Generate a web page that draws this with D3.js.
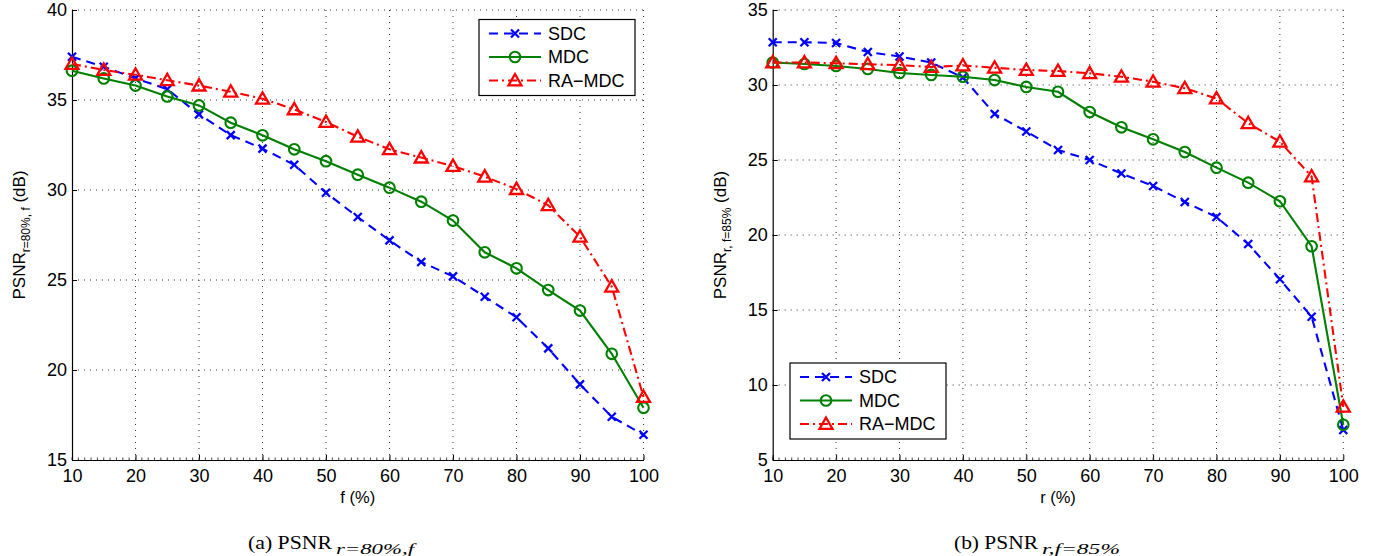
<!DOCTYPE html>
<html>
<head>
<meta charset="utf-8">
<script src="https://cdn.jsdelivr.net/npm/d3@7"></script>
<style>
  html, body { margin: 0; padding: 0; background: #fff; }
  svg { display: block; }
  text { font-family: "Liberation Sans", Arial, sans-serif; }
  text.cap { font-family: "Liberation Serif", "Times New Roman", serif; }
</style>
</head>
<body>
<svg id="chart" width="1384" height="556"></svg>
<script>
// x values shared by both panels
const pct = [10, 15, 20, 25, 30, 35, 40, 45, 50, 55, 60, 65, 70, 75, 80, 85, 90, 95, 100]

// (a) PSNR vs f, r = 80%
const sdcA = [37.4, 36.85, 36.2, 35.6, 34.2, 33.05, 32.3, 31.4, 29.85, 28.5, 27.2, 26.0, 25.2, 24.07, 22.93, 21.2, 19.2, 17.4, 16.4]
const mdcA = [36.63, 36.2, 35.8, 35.2, 34.7, 33.74, 33.04, 32.26, 31.6, 30.85, 30.13, 29.35, 28.3, 26.54, 25.65, 24.44, 23.3, 20.9, 17.9]
const raA  = [37.0, 36.67, 36.4, 36.1, 35.8, 35.46, 35.07, 34.48, 33.78, 32.96, 32.26, 31.8, 31.33, 30.74, 30.05, 29.15, 27.4, 24.63, 18.5]

// (b) PSNR vs r, f = 85%
const sdcB = [32.85, 32.85, 32.8, 32.2, 31.9, 31.5, 30.5, 28.07, 26.9, 25.67, 25.0, 24.1, 23.27, 22.2, 21.2, 19.4, 17.05, 14.55, 7.0]
const mdcB = [31.5, 31.4, 31.27, 31.07, 30.8, 30.67, 30.55, 30.33, 29.87, 29.55, 28.2, 27.18, 26.38, 25.53, 24.49, 23.49, 22.25, 19.25, 7.35]
const raB  = [31.5, 31.5, 31.45, 31.38, 31.33, 31.2, 31.3, 31.15, 31.0, 30.93, 30.78, 30.55, 30.22, 29.78, 29.1, 27.45, 26.22, 23.9, 8.55]

const xTicks = [10, 20, 30, 40, 50, 60, 70, 80, 90, 100]
const yTicksA = [15, 20, 25, 30, 35, 40]
const yTicksB = [5, 10, 15, 20, 25, 30, 35]

const seriesNames = ['SDC', 'MDC', 'RA\u2212MDC']
const colors = ['#0000ff', '#008000', '#ff0000']
const dashes = ['9,6', null, '9,4,2,4']
const markers = ['cross', 'circle', 'triangle']

const svg = d3.select('#chart')

function drawMarker(g, type, x, y, color) {
  if (type === 'cross') {
    const s = 4
    g.append('path')
      .attr('d', `M${x - s},${y - s}L${x + s},${y + s}M${x - s},${y + s}L${x + s},${y - s}`)
      .attr('stroke', color).attr('stroke-width', 2.3).attr('fill', 'none')
  } else if (type === 'circle') {
    g.append('circle')
      .attr('cx', x).attr('cy', y).attr('r', 5.3)
      .attr('stroke', color).attr('stroke-width', 2.1).attr('fill', 'none')
  } else {
    const h = 6.5
    g.append('path')
      .attr('d', `M${x},${y - h}L${x + h},${y + h * 0.75}L${x - h},${y + h * 0.75}Z`)
      .attr('stroke', color).attr('stroke-width', 2.3).attr('fill', 'none')
  }
}

function panel(opt) {
  const x = d3.scaleLinear().domain([10, 100]).range([opt.left, opt.right])
  const y = d3.scaleLinear().domain(opt.yDomain).range([460, 10])
  const g = svg.append('g')

  // grid
  g.selectAll('.gx').data(xTicks.slice(1)).enter().append('line')
    .attr('x1', d => x(d)).attr('x2', d => x(d))
    .attr('y1', 10).attr('y2', 460)
    .attr('stroke', '#333').attr('stroke-width', 1).attr('stroke-dasharray', '1,5')
  g.selectAll('.gy').data(opt.yTicks.slice(1)).enter().append('line')
    .attr('x1', opt.left).attr('x2', opt.right)
    .attr('y1', d => y(d)).attr('y2', d => y(d))
    .attr('stroke', '#333').attr('stroke-width', 1).attr('stroke-dasharray', '1,5')

  // axes
  const xAxis = g.append('g').attr('transform', 'translate(0,460)')
    .call(d3.axisBottom(x).tickValues(xTicks).tickSizeInner(-5).tickSizeOuter(0).tickPadding(8))
  const minor = d3.range(10, 101, 1)
  xAxis.selectAll('.minor').data(minor).enter().append('line')
    .attr('x1', d => x(d)).attr('x2', d => x(d))
    .attr('y1', 0).attr('y2', -2.5).attr('stroke', '#444')
  const yAxis = g.append('g').attr('transform', `translate(${opt.left},0)`)
    .call(d3.axisLeft(y).tickValues(opt.yTicks).tickSizeInner(-5).tickSizeOuter(0).tickPadding(5))
  ;[xAxis, yAxis].forEach(a => {
    a.select('.domain').attr('stroke', '#000').attr('stroke-width', 1.2)
    a.selectAll('text').attr('font-size', 18).attr('fill', '#000')
  })
  xAxis.selectAll('.tick text').attr('dy', '0.8em')
  yAxis.selectAll('.tick text').attr('dy', '0.33em')

  // series
  opt.series.forEach((vals, i) => {
    const pts = pct.map((p, k) => [x(p), y(vals[k])])
    const line = d3.line()
    g.append('path').attr('d', line(pts))
      .attr('fill', 'none').attr('stroke', colors[i]).attr('stroke-width', 2.1)
      .attr('stroke-dasharray', dashes[i])
    pts.forEach(p => drawMarker(g, markers[i], p[0], p[1], colors[i]))
  })

  // legend
  const lg = g.append('g').attr('transform', `translate(${opt.legend[0]},${opt.legend[1]})`)
  lg.append('rect').attr('width', 156).attr('height', 76)
    .attr('fill', '#fff').attr('stroke', '#000').attr('stroke-width', 1.2)
  seriesNames.forEach((name, i) => {
    const ly = 14 + i * 23.5
    lg.append('line').attr('x1', 10).attr('x2', 62).attr('y1', ly).attr('y2', ly)
      .attr('stroke', colors[i]).attr('stroke-width', 2.1).attr('stroke-dasharray', dashes[i])
    drawMarker(lg, markers[i], 36, ly, colors[i])
    lg.append('text').attr('x', 69).attr('y', ly).attr('dy', '0.36em')
      .attr('font-size', 18).text(name)
  })

  // x label
  g.append('text').attr('x', (opt.left + opt.right) / 2).attr('y', 503)
    .attr('text-anchor', 'middle').attr('font-size', 16.5).text(opt.xLabel)

  // y label
  const yl = g.append('text')
    .attr('transform', `translate(${opt.left - 47},235) rotate(-90)`)
    .attr('text-anchor', 'middle').attr('font-size', 17)
  yl.append('tspan').text('PSNR')
  yl.append('tspan').attr('dy', 5).attr('font-size', 12).text(opt.ySub)
  yl.append('tspan').attr('dy', -5).text(' (dB)')

  // caption
  g.append('text').attr('class', 'cap').attr('x', opt.caption).attr('y', 549)
    .attr('font-size', 18.5).attr('textLength', 84).attr('lengthAdjust', 'spacingAndGlyphs')
    .text(opt.capTag + ' PSNR')
  g.append('text').attr('class', 'cap').attr('x', opt.caption + 88).attr('y', 554)
    .attr('font-size', 14.5).attr('textLength', 78).attr('lengthAdjust', 'spacingAndGlyphs')
    .attr('font-style', 'italic').text(opt.capSub)
}

panel({
  left: 72, right: 643.5, yDomain: [15, 40], yTicks: yTicksA,
  series: [sdcA, mdcA, raA], legend: [479, 19.5],
  xLabel: 'f (%)', ySub: 'r=80%, f', caption: 248, capTag: '(a)', capSub: 'r=80%,f'
})
panel({
  left: 772.7, right: 1343.3, yDomain: [5, 35], yTicks: yTicksB,
  series: [sdcB, mdcB, raB], legend: [790, 363],
  xLabel: 'r (%)', ySub: 'r, f=85%', caption: 954, capTag: '(b)', capSub: 'r,f=85%'
})
</script>
</body>
</html>
